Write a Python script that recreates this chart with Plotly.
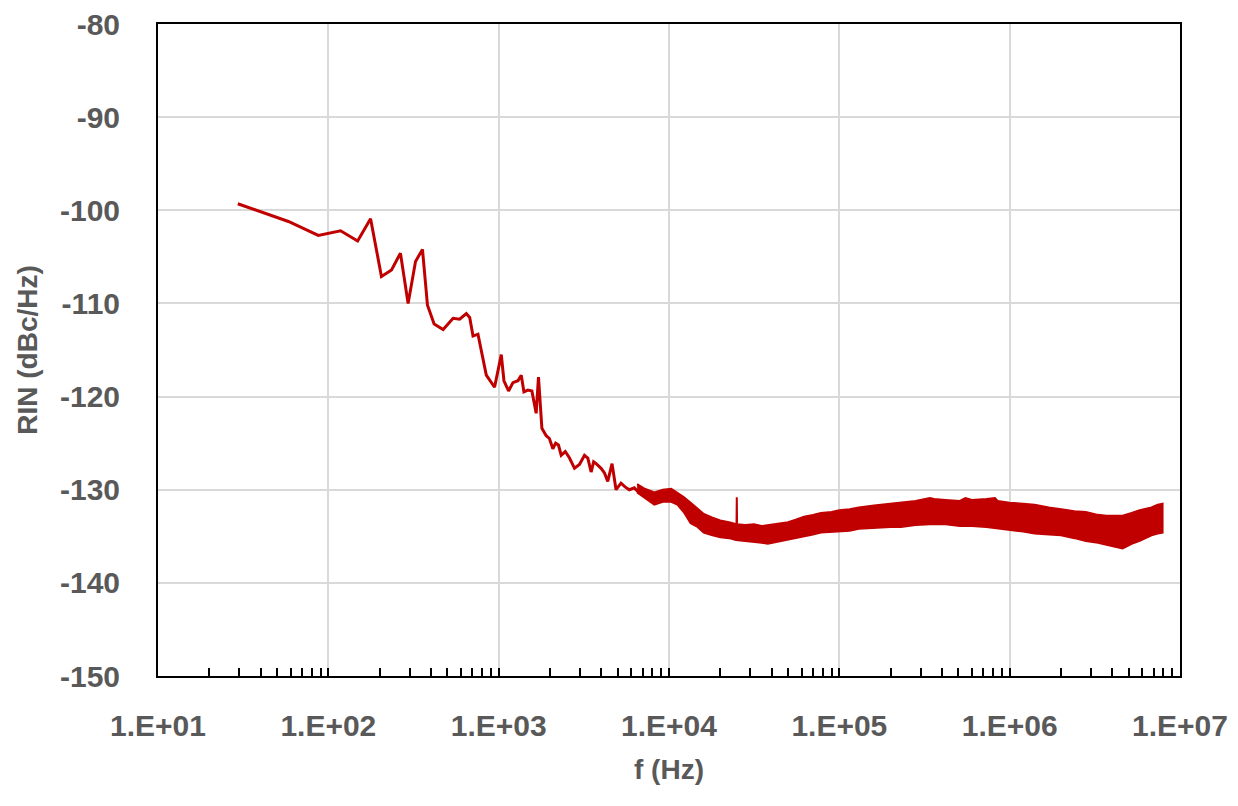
import plotly.graph_objects as go

# low-frequency part of the RIN trace (single line)
freq_hz = [29.4, 58.3, 87.3, 118, 148.6, 177, 205, 235, 265, 294, 325, 357, 382, 418, 472,
           540, 590, 646, 676, 707, 756, 846, 946, 1036, 1074, 1143, 1213, 1298, 1357, 1407,
           1485, 1567, 1660, 1713, 1794, 1901, 1986, 2080, 2160, 2244, 2328, 2460, 2606, 2788,
           2981, 3190, 3337, 3490, 3610, 3735, 3993, 4180, 4369, 4630, 4888, 5227, 5520, 5851,
           6258, 6650, 7200]
rin_db = [-99.3, -101.2, -102.7, -102.2, -103.3, -100.9, -107.1, -106.4, -104.6, -110.0,
          -105.5, -104.2, -110.2, -112.2, -112.8, -111.6, -111.7, -111.1, -111.5, -113.5,
          -113.3, -117.7, -119.0, -115.5, -118.3, -119.4, -118.5, -118.3, -117.7, -119.5,
          -119.3, -119.4, -121.8, -117.9, -123.4, -124.2, -124.5, -125.6, -125.0, -125.2,
          -126.3, -125.9, -126.6, -127.7, -127.3, -126.3, -126.6, -128.1, -127.0, -127.2,
          -127.7, -128.2, -129.1, -127.2, -130.0, -129.3, -129.7, -130.0, -129.8, -130.3,
          -130.1]

# noisy high-frequency part: upper / lower edge of the band
band_hz = [6.5e3, 7.2e3, 8.2e3, 9.2e3, 1.03e4, 1.12e4, 1.22e4, 1.34e4, 1.47e4, 1.6e4,
           1.8e4, 2.0e4, 2.25e4, 2.47e4, 2.49e4, 2.5e4, 2.51e4, 2.8e4, 3.16e4, 3.5e4,
           3.8e4, 4.3e4, 5.0e4, 5.6e4, 6.2e4, 7.0e4, 7.8e4, 9.0e4, 1.0e5, 1.15e5,
           1.3e5, 1.6e5, 2.0e5, 2.3e5, 2.8e5, 3.4e5, 3.6e5, 4.2e5, 5.1e5, 5.5e5, 6.0e5,
           7.3e5, 8.2e5, 8.5e5, 1.0e6, 1.2e6, 1.4e6, 1.7e6, 2.0e6, 2.4e6, 2.8e6, 3.3e6,
           3.7e6, 4.2e6, 4.6e6, 5.2e6, 5.8e6, 6.8e6, 7.4e6, 7.9e6]
band_top = [-129.4, -129.9, -130.3, -130.0, -129.9, -130.3, -130.8, -131.4, -132.0, -132.6,
            -133.0, -133.3, -133.5, -133.7, -133.7, -130.8, -133.7, -133.8, -133.7, -133.9,
            -133.8, -133.7, -133.5, -133.2, -132.9, -132.7, -132.5, -132.4, -132.2, -132.1,
            -131.9, -131.7, -131.5, -131.3, -131.2, -130.9, -131.0, -131.1, -131.2, -130.9, -131.1,
            -131.0, -130.9, -131.2, -131.4, -131.5, -131.6, -131.9, -132.1, -132.3, -132.4, -132.7,
            -132.8, -132.8, -132.8, -132.5, -132.2, -131.9, -131.6, -131.5]
band_bot = [-130.3, -130.9, -131.6, -131.3, -131.3, -131.6, -132.4, -133.6, -134.0, -134.6,
            -134.9, -135.1, -135.2, -135.4, -135.4, -135.4, -135.4, -135.5, -135.6, -135.7,
            -135.8, -135.6, -135.4, -135.2, -135.0, -134.8, -134.6, -134.5, -134.5, -134.4,
            -134.2, -134.1, -134.0, -134.0, -133.8, -133.7, -133.7, -133.7, -133.9, -133.9, -133.9,
            -134.0, -134.1, -134.1, -134.3, -134.5, -134.7, -134.8, -134.9, -135.2, -135.5, -135.7,
            -135.9, -136.1, -136.3, -135.8, -135.5, -134.9, -134.7, -134.6]

tick_vals = [1e1, 1e2, 1e3, 1e4, 1e5, 1e6, 1e7]
tick_text = ["1.E+01", "1.E+02", "1.E+03", "1.E+04", "1.E+05", "1.E+06", "1.E+07"]
minor_vals = [k * 10 ** d for d in range(1, 7) for k in range(2, 10)]
y_vals = [-150, -140, -130, -120, -110, -100, -90, -80]
y_text = ["-150", "-140", "-130", "-120", "-110", "-100", "-90", "-80"]

red = "#C00000"
grey = "#595959"
font = "Liberation Sans"

fig = go.Figure()

fig.add_trace(go.Scatter(
    x=band_hz + band_hz[::-1],
    y=band_top + band_bot[::-1],
    mode="lines",
    fill="toself",
    fillcolor=red,
    line=dict(color=red, width=2),
    hoverinfo="skip",
))
fig.add_trace(go.Scatter(x=freq_hz, y=rin_db, mode="lines",
                         line=dict(color=red, width=3)))

fig.update_layout(
    width=1238, height=806,
    margin=dict(l=150, r=66, t=16, b=138),
    paper_bgcolor="white", plot_bgcolor="white",
    showlegend=False,
    font=dict(family=font, size=30, color=grey),
)
fig.update_xaxes(
    type="log", range=[1, 7],
    tickvals=tick_vals, ticktext=tick_text,
    tickfont=dict(family=font, size=30, color=grey, weight="bold"),
    ticks="inside", ticklen=8, tickcolor="black", tickwidth=2,
    minor=dict(tickvals=minor_vals, ticks="inside", ticklen=8, tickcolor="black", tickwidth=2,
               showgrid=False),
    showgrid=True, gridcolor="#d9d9d9", gridwidth=2,
    showline=True, linecolor="black", linewidth=2, mirror=True,
    ticklabelstandoff=22, ticklabeloverflow="allow", automargin=False,
    title=dict(text="f (Hz)", font=dict(family=font, size=28, color=grey, weight="bold"),
               standoff=18),
)
fig.update_yaxes(
    range=[-150, -80], tickvals=y_vals, ticktext=y_text,
    tickfont=dict(family=font, size=30, color=grey, weight="bold"),
    ticks="", showgrid=True, gridcolor="#d9d9d9", gridwidth=2,
    showline=True, linecolor="black", linewidth=2, mirror=True,
    ticklabelstandoff=30, ticklabeloverflow="allow", automargin=False,
    title=dict(text="RIN (dBc/Hz)", font=dict(family=font, size=28, color=grey, weight="bold"),
               standoff=14),
)

fig.write_html("out.html")
